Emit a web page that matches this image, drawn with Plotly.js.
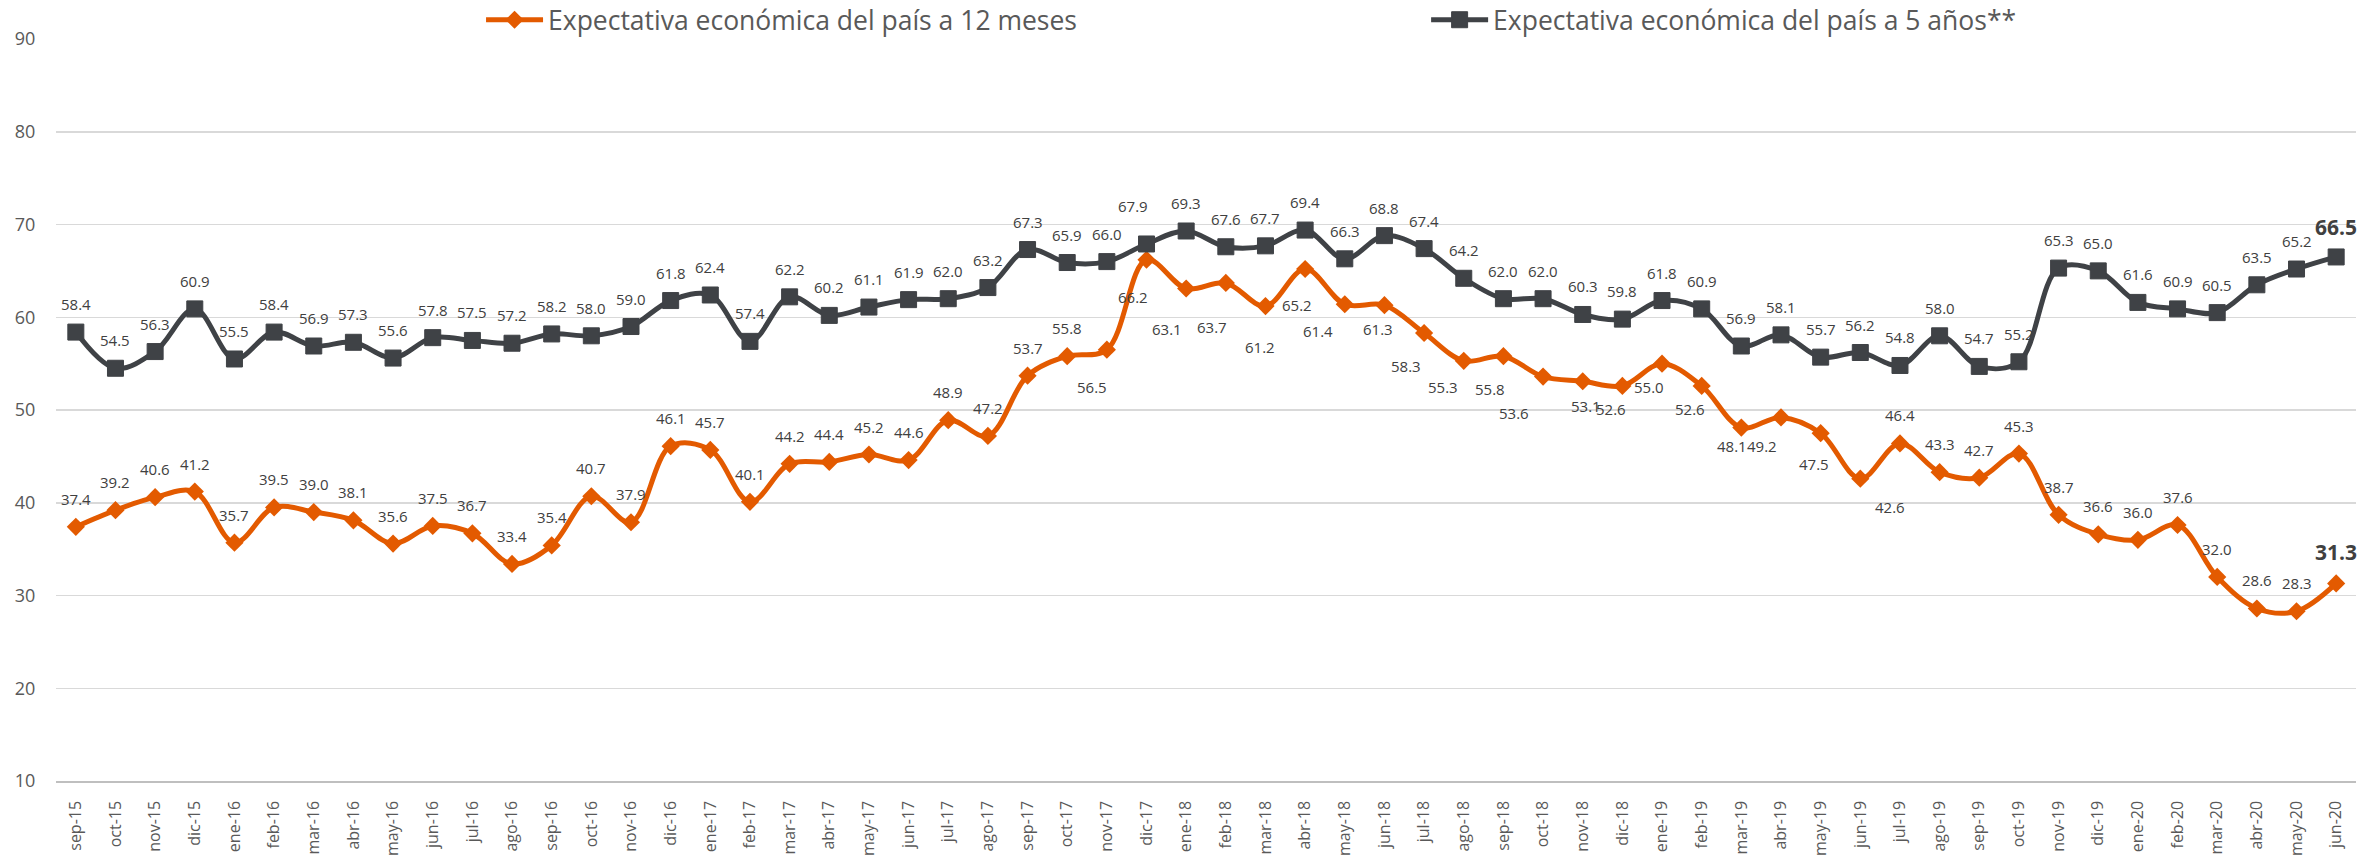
<!DOCTYPE html>
<html>
<head>
<meta charset="utf-8">
<script src="https://cdn.plot.ly/plotly-3.0.1.min.js"></script>
<style>
html,body{margin:0;padding:0;background:#ffffff;}
#chart{width:2379px;height:855px;}
</style>
</head>
<body>
<div id="chart"></div>
<script>
// ---- Data ----
const months = ['sep-15','oct-15','nov-15','dic-15',
  'ene-16','feb-16','mar-16','abr-16','may-16','jun-16','jul-16','ago-16','sep-16','oct-16','nov-16','dic-16',
  'ene-17','feb-17','mar-17','abr-17','may-17','jun-17','jul-17','ago-17','sep-17','oct-17','nov-17','dic-17',
  'ene-18','feb-18','mar-18','abr-18','may-18','jun-18','jul-18','ago-18','sep-18','oct-18','nov-18','dic-18',
  'ene-19','feb-19','mar-19','abr-19','may-19','jun-19','jul-19','ago-19','sep-19','oct-19','nov-19','dic-19',
  'ene-20','feb-20','mar-20','abr-20','may-20','jun-20'];

const expectativa12Meses = [37.4,39.2,40.6,41.2,
  35.7,39.5,39.0,38.1,35.6,37.5,36.7,33.4,35.4,40.7,37.9,46.1,
  45.7,40.1,44.2,44.4,45.2,44.6,48.9,47.2,53.7,55.8,56.5,66.2,
  63.1,63.7,61.2,65.2,61.4,61.3,58.3,55.3,55.8,53.6,53.1,52.6,
  55.0,52.6,48.1,49.2,47.5,42.6,46.4,43.3,42.7,45.3,38.7,36.6,
  36.0,37.6,32.0,28.6,28.3,31.3];

const expectativa5Anos = [58.4,54.5,56.3,60.9,
  55.5,58.4,56.9,57.3,55.6,57.8,57.5,57.2,58.2,58.0,59.0,61.8,
  62.4,57.4,62.2,60.2,61.1,61.9,62.0,63.2,67.3,65.9,66.0,67.9,
  69.3,67.6,67.7,69.4,66.3,68.8,67.4,64.2,62.0,62.0,60.3,59.8,
  61.8,60.9,56.9,58.1,55.7,56.2,54.8,58.0,54.7,55.2,65.3,65.0,
  61.6,60.9,60.5,63.5,65.2,66.5];

const seriesNames = ['Expectativa económica del país a 12 meses',
                     'Expectativa económica del país a 5 años**'];

// ---- Label placement (pixel shifts [dx, dy], dy>0 = below); default is above ----
const defaultLabelShift = [0, -28];
const orangeLabelShift = {
  26:[-15,37], 27:[-14,37], 28:[-19,40], 29:[-14,44], 30:[-5,41], 31:[-8,36],
  32:[-27,27], 33:[-6,24], 34:[-18,33], 35:[-21,26], 36:[-13,33], 37:[-29,36],
  38:[3,25], 39:[-11,23], 40:[-13,23], 41:[-12,23], 42:[-9,18], 43:[-19,29],
  44:[-7,31], 45:[30,28], 57:[0,-31]
};
const darkLabelShift = { 27:[-14,-38], 57:[0,-30] };

// ---- Styles ----
const ORANGE = '#E35A00';
const DARK = '#3F4246';
const LABEL_COLOR = '#404040';
const AXIS_TEXT = '#595959';
const FONT = '"Open Sans", "Noto Sans", Arial, sans-serif';

const traces = [
  {
    x: months, y: expectativa12Meses, name: seriesNames[0], type: 'scatter', mode: 'lines+markers',
    line: {color: ORANGE, width: 5, shape: 'spline', smoothing: 1},
    marker: {symbol: 'diamond', size: 14, color: ORANGE},
    legend: 'legend', hoverinfo: 'x+y'
  },
  {
    x: months, y: expectativa5Anos, name: seriesNames[1], type: 'scatter', mode: 'lines+markers',
    line: {color: DARK, width: 5, shape: 'spline', smoothing: 1},
    marker: {symbol: 'square', size: 16, color: DARK, line: {color: DARK, width: 1}},
    legend: 'legend2', hoverinfo: 'x+y'
  }
];

function buildLabels(values, shifts) {
  const last = values.length - 1;
  return values.map((v, i) => {
    const s = shifts[i] || defaultLabelShift;
    const isLast = i === last;
    return {
      x: months[i], y: v, xref: 'x', yref: 'y',
      text: isLast ? '<b>' + v.toFixed(1) + '</b>' : v.toFixed(1),
      showarrow: false, xanchor: 'center', yanchor: 'middle',
      xshift: s[0], yshift: -s[1],
      font: {family: FONT, size: isLast ? 21 : 15, color: LABEL_COLOR}
    };
  });
}

const annotations = buildLabels(expectativa12Meses, orangeLabelShift)
  .concat(buildLabels(expectativa5Anos, darkLabelShift));

const layout = {
  width: 2379, height: 855,
  margin: {l: 56, r: 23, t: 39, b: 74, pad: 0, autoexpand: false},
  paper_bgcolor: '#ffffff', plot_bgcolor: '#ffffff',
  font: {family: FONT, color: AXIS_TEXT},
  showlegend: true,
  legend: {
    x: 0.1848, xanchor: 'left', y: 1.0256, yanchor: 'middle', orientation: 'h',
    itemwidth: 57,
    font: {family: FONT, size: 26.5, color: AXIS_TEXT}, bgcolor: 'rgba(0,0,0,0)'
  },
  legend2: {
    x: 0.5957, xanchor: 'left', y: 1.0256, yanchor: 'middle', orientation: 'h',
    itemwidth: 57,
    font: {family: FONT, size: 26.5, color: AXIS_TEXT}, bgcolor: 'rgba(0,0,0,0)'
  },
  xaxis: {
    type: 'category', range: [-0.5, months.length - 0.5],
    tickangle: -90, tickfont: {family: FONT, size: 16, color: AXIS_TEXT},
    showgrid: false, zeroline: false,
    showline: true, linecolor: '#BFBFBF', linewidth: 1.5,
    ticks: 'outside', ticklen: 12, tickcolor: 'rgba(0,0,0,0)',
    fixedrange: true
  },
  yaxis: {
    range: [10, 90], dtick: 10, tick0: 10,
    tickfont: {family: FONT, size: 18, color: AXIS_TEXT},
    showgrid: true, gridcolor: '#D9D9D9', gridwidth: 1.5,
    zeroline: false, showline: false,
    ticks: 'outside', ticklen: 16, tickcolor: 'rgba(0,0,0,0)',
    fixedrange: true
  },
  annotations: annotations
};

Plotly.newPlot('chart', traces, layout, {displayModeBar: false, staticPlot: true});
</script>
</body>
</html>
